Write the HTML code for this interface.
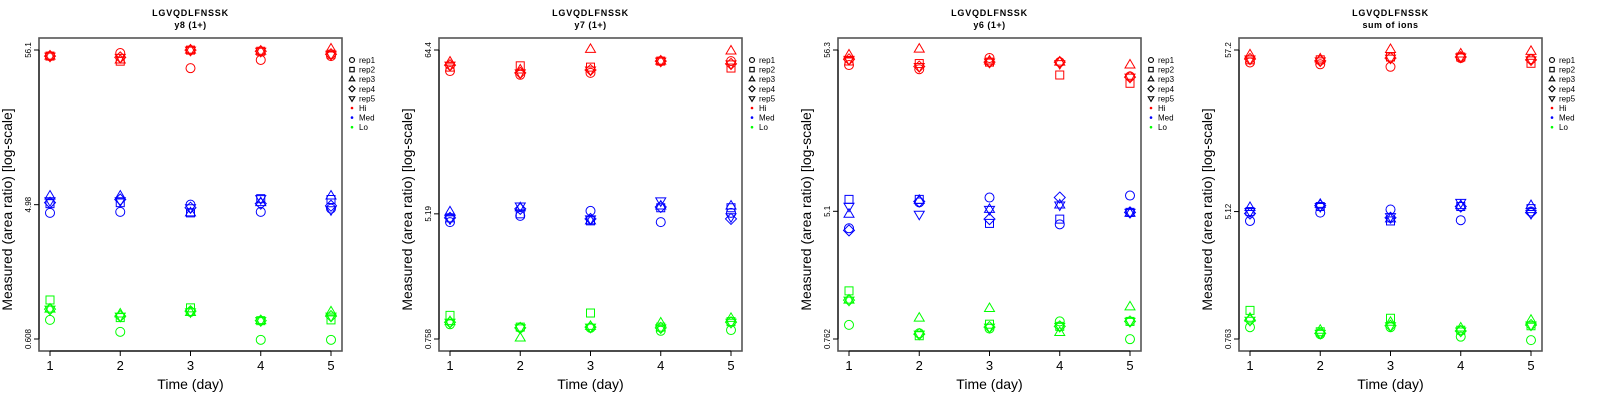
<!DOCTYPE html>
<html><head><meta charset="utf-8"><style>
html,body{margin:0;padding:0;background:#fff;}
svg{display:block;font-family:"Liberation Sans",sans-serif;}
</style></head><body>
<svg id="chart" width="1600" height="400" viewBox="0 0 1600 400" xmlns="http://www.w3.org/2000/svg"></svg>
<script>
const panelTitles = ["y8 (1+)", "y7 (1+)", "y6 (1+)", "sum of ions"];
const peptide = "LGVQDLFNSSK";
const days = [1, 2, 3, 4, 5];
const yTickTop = [56.1, 64.4, 56.3, 57.2];
const yTickMid = [4.98, 5.19, 5.1, 5.12];
const yTickBot = [0.608, 0.758, 0.762, 0.763];
const groups = ["Hi", "Med", "Lo"];
const groupColors = ["#ff0000", "#0000ff", "#00ff00"];
const reps = ["rep1", "rep2", "rep3", "rep4", "rep5"];
// values[panel][group][day] = [rep1..rep5]
const p1Hi = [[51,51,51,51,51],[53.5,47.1,48,50,50],[42.2,56,56,56,56],[48,55,55,55,55],[51,52.5,57,52.5,52.5]];
const p1Med = [[4.38,5.06,5.7,5.14,5.3],[4.45,5.14,5.7,5.4,5.3],[4.98,4.38,4.38,4.75,4.75],[4.45,5.47,5.14,5.06,5.47],[4.68,5.4,5.7,4.9,4.6]];
const p1Lo = [[0.82,1.12,0.97,0.97,0.97],[0.68,0.85,0.9,0.87,0.87],[0.93,0.99,0.92,0.94,0.93],[0.6,0.81,0.81,0.81,0.81],[0.6,0.82,0.93,0.87,0.87]];
const p2Hi = [[46.6,49.5,53.5,51,51],[44,50.5,47.4,45.3,45.3],[45.3,49.5,65,47.4,47.4],[54.3,54.3,54.3,54.3,54.3],[54.3,48.8,63.4,52,52]];
const p2Med = [[4.57,4.88,5.35,4.88,4.8],[5.03,5.19,5.7,5.6,5.85],[5.43,4.66,4.66,4.8,4.8],[4.57,5.7,5.85,5.77,6.33],[5.27,5.7,5.85,4.8,4.96]];
const p2Lo = [[0.95,1.09,0.99,0.98,0.98],[0.9,0.91,0.77,0.9,0.9],[0.9,1.13,0.92,0.91,0.91],[0.86,0.91,0.97,0.9,0.9],[0.87,0.99,1.04,0.98,0.98]];
const p3Hi = [[45,47.8,52.3,49,49],[42.3,46,57,44,44],[50,47,47.8,47,47],[47,38.8,47,47,46],[38,34.3,45,37.6,37.6]];
const p3Med = [[3.96,6.09,4.88,3.84,5.5],[5.83,6.09,6,5.9,4.88],[6.26,4.26,5.25,4.54,5.25],[4.2,4.54,5.6,6.26,5.6],[6.45,5.02,4.95,5.02,5.02]];
const p3Lo = [[0.94,1.56,1.36,1.36,1.36],[0.83,0.8,1.04,0.82,0.82],[0.89,0.95,1.2,0.91,0.91],[0.99,0.92,0.84,0.92,0.92],[0.76,0.99,1.23,0.99,0.99]];
const p4Hi = [[47.5,49.4,53.2,50,50],[46.2,49.4,50,48.6,48.6],[44.5,51.5,57.6,50.7,50.7],[50.7,51.5,53.9,51.5,51.5],[50,46.9,56,49.4,49.4]];
const p4Med = [[4.45,5.12,5.44,4.97,5.12],[5.04,5.52,5.7,5.6,5.52],[5.28,4.45,4.59,4.67,4.75],[4.5,5.52,5.6,5.52,5.87],[5.12,5.35,5.6,5.04,4.97]];
const p4Lo = [[0.91,1.17,1.04,1.01,1.01],[0.82,0.85,0.87,0.83,0.83],[0.91,1.04,0.98,0.93,0.93],[0.79,0.87,0.9,0.86,0.86],[0.75,0.93,1.01,0.94,0.94]];
const panelData = [[p1Hi,p1Med,p1Lo],[p2Hi,p2Med,p2Lo],[p3Hi,p3Med,p3Lo],[p4Hi,p4Med,p4Lo]];

const NS = "http://www.w3.org/2000/svg";
const svg = document.getElementById("chart");
function mk(tag, attrs, parent, text) {
  const e = document.createElementNS(NS, tag);
  for (const k in attrs) e.setAttribute(k, attrs[k]);
  if (text !== undefined) e.textContent = text;
  parent.appendChild(e);
  return e;
}
const boxLefts = [39, 439, 838, 1239];
const boxW = 303, boxTop = 38, boxBot = 351;
const yTop = 50, yBot = 339;

function marker(g, shape, x, y, color) {
  const st = {fill: "none", stroke: color, "stroke-width": 1};
  let e;
  if (shape === 0) e = mk("circle", Object.assign({cx: x, cy: y, r: 4.5}, st), g);
  else if (shape === 1) e = mk("rect", Object.assign({x: x - 4, y: y - 4, width: 8, height: 8}, st), g);
  else if (shape === 2) e = mk("polygon", Object.assign({points: `${x},${y-5.5} ${x+5},${y+3} ${x-5},${y+3}`}, st), g);
  else if (shape === 3) e = mk("polygon", Object.assign({points: `${x},${y-5.5} ${x+5.5},${y} ${x},${y+5.5} ${x-5.5},${y}`}, st), g);
  else e = mk("polygon", Object.assign({points: `${x},${y+5.5} ${x+5},${y-3} ${x-5},${y-3}`}, st), g);
  return e;
}

panelTitles.forEach((title, p) => {
  const L = boxLefts[p], R = L + boxW;
  const x1 = L + 11, x5 = L + 292;
  const xScale = d => x1 + (d - 1) / 4 * (x5 - x1);
  const lt = Math.log(yTickTop[p]), lb = Math.log(yTickBot[p]);
  const yScale = v => yTop + (lt - Math.log(v)) / (lt - lb) * (yBot - yTop);
  const g = mk("g", {}, svg);
  
  
  const cx = L + boxW / 2;
  const t1 = mk("text", {x: cx, y: 16, "text-anchor": "middle", "font-size": 9, "font-weight": "bold", "letter-spacing": "0.8"}, g, peptide);
  
  
  const t2 = mk("text", {x: cx, y: 28, "text-anchor": "middle", "font-size": 9, "font-weight": "bold", "letter-spacing": "0.5"}, g, title);
  
  
  const box = mk("rect", {x: L, y: boxTop, width: boxW, height: boxBot - boxTop, fill: "none", stroke: "#555", "stroke-width": 1.6}, g);
  
  
  days.forEach(d => {
    const x = xScale(d);
    mk("line", {x1: x, x2: x, y1: boxBot, y2: boxBot + 5, stroke: "#000", "stroke-width": 1}, g);
    const tl = mk("text", {x: x, y: 370, "text-anchor": "middle", "font-size": 13}, g, String(d));
    
    
  });
  mk("line", {x1: x1, x2: x5, y1: boxBot, y2: boxBot, stroke: "#000", "stroke-width": 1}, g);
  const xt = mk("text", {x: (x1 + x5) / 2, y: 389, "text-anchor": "middle", "font-size": 14}, g, "Time (day)");
  
  
  [yTickTop[p], yTickMid[p], yTickBot[p]].forEach(v => {
    const y = yScale(v);
    mk("line", {x1: L - 5, x2: L, y1: y, y2: y, stroke: "#000", "stroke-width": 1}, g);
    const tl = mk("text", {x: 0, y: 0, transform: `translate(${L - 8},${y}) rotate(-90)`, "text-anchor": "middle", "font-size": 8}, g, String(v));
    
    
  });
  mk("line", {x1: L, x2: L, y1: yTop, y2: yBot, stroke: "#000", "stroke-width": 1}, g);
  const yt = mk("text", {x: 0, y: 0, transform: `translate(${L - 27},${(boxTop + boxBot) / 2 + 15}) rotate(-90)`, "text-anchor": "middle", "font-size": 14}, g, "Measured (area ratio) [log-scale]");
  
  
  groups.forEach((grp, gi) => {
    panelData[p][gi].forEach((vals, di) => {
      vals.forEach((v, ri) => {
        const m = marker(g, ri, xScale(days[di]), yScale(v), groupColors[gi]);
        
        
      });
    });
  });
  const lg = mk("g", {}, g);
  
  
  const lx = R + 10;
  reps.forEach((r, i) => {
    const y = 60 + i * 9.6;
    const m = marker(lg, i, lx, y, "#000");
    m.setAttribute("transform", `translate(${lx},${y}) scale(0.55) translate(${-lx},${-y})`);
    m.setAttribute("stroke-width", 2);
    const t = mk("text", {x: lx + 7, y: y + 3, "font-size": 8}, lg, r);
    
    
  });
  groups.forEach((grp, i) => {
    const y = 60 + (5 + i) * 9.6;
    mk("circle", {cx: lx, cy: y, r: 1.3, fill: groupColors[i]}, lg);
    const t = mk("text", {x: lx + 7, y: y + 3, "font-size": 8}, lg, grp);
    
    
  });
});
</script>
</body></html>
